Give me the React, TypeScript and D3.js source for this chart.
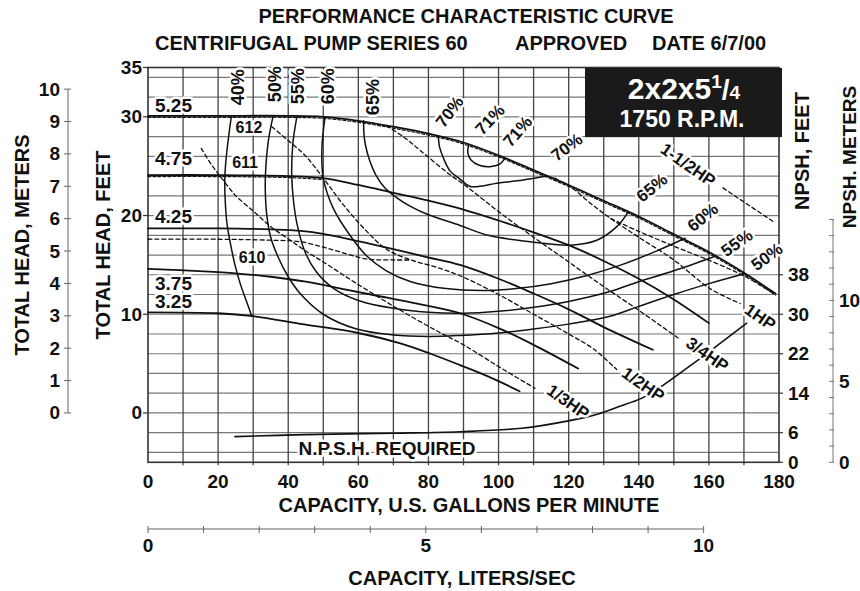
import React from 'react';
import * as d3 from 'd3';

type Pt = [number, number];

const FONT = "'Liberation Sans', Arial, Helvetica, sans-serif";

// --- axis ticks ---
const gpmTicks = [0, 20, 40, 60, 80, 100, 120, 140, 160, 180];
const gpmGrid = [10, 20, 30, 40, 50, 60, 70, 80, 90, 100, 110, 120, 130, 140, 150, 160, 170];
const headGrid = [-4, -2, 0, 2, 4, 6, 8, 10, 12, 14, 16, 18, 20, 22, 24, 26, 28, 30, 32, 34];
const headFtTicks = [0, 10, 20, 30, 35];
const headMTicks = [0, 1, 2, 3, 4, 5, 6, 7, 8, 9, 10];
const npshFtTicks = [0, 6, 14, 22, 30, 38];
const npshMTicks = [0, 1, 2, 3, 4, 5, 6, 7, 8, 9, 10, 11, 12, 13, 14, 15];
const npshMLabels = [0, 5, 10];
const literTicks = [0, 1, 2, 3, 4, 5, 6, 7, 8, 9, 10];
const literLabels = [0, 5, 10];

// --- impeller head curves (gpm, ft) ---
const imp525: Pt[] = [[0, 30.1], [20, 30.1], [40, 30.1], [50, 30.0], [60, 29.6], [70, 29.0], [80, 28.3], [90, 27.4], [100, 26.1], [110, 24.6], [120, 23.1], [130, 21.5], [140, 19.9], [150, 18.1], [160, 16.3], [170, 14.2], [179, 12.1]];
const imp475: Pt[] = [[0, 24.1], [20, 24.1], [40, 24.0], [50, 23.8], [60, 23.1], [70, 22.3], [80, 21.5], [90, 20.6], [100, 19.5], [110, 18.3], [120, 17.0], [130, 15.4], [140, 13.6], [150, 11.5], [160, 9.1]];
const imp425: Pt[] = [[0, 18.7], [20, 18.7], [35, 18.6], [45, 18.4], [55, 17.8], [65, 17.0], [79.5, 15.8], [89, 15.0], [100, 13.6], [110, 12.1], [120, 10.5], [130, 8.7], [144, 6.4]];
const imp375: Pt[] = [[0, 14.6], [16, 14.35], [25, 14.15], [35, 13.8], [45, 13.3], [55, 12.6], [65, 11.9], [75, 11.2], [89, 10.1], [100, 8.6], [110, 6.9], [122.7, 4.5]];
const imp325: Pt[] = [[0, 10.2], [20, 10.1], [30, 9.8], [44, 9.0], [60, 8.1], [72, 7.05], [81, 5.95], [89, 4.85], [97, 3.7], [106, 2.2]];
const imp475Dotted: Pt[] = [[0, 24.1], [20, 24.1], [40, 24.0], [50, 23.8]];

// --- efficiency contours ---
const eff40: Pt[] = [[23.8, 30.1], [23.0, 28.0], [22.2, 25.5], [21.9, 23.5], [22.1, 21.0], [22.6, 19.0], [23.6, 17.0], [24.8, 15.0], [26.4, 13.0], [28.0, 11.4], [29.6, 9.8]];
const eff50: Pt[] = [[35.7, 30.1], [34.3, 27.5], [33.5, 24.1], [33.5, 22.0], [33.9, 20.0], [35.0, 17.8], [37.1, 15.8], [40, 13.8], [43.4, 12.1], [50, 10.0], [59.5, 8.5], [70, 7.9], [80, 7.75], [89, 7.85], [100, 8.1], [110, 8.5], [120, 9.0], [131.8, 9.8], [140, 10.8], [150, 12.0], [160, 13.1], [170.2, 14.1]];
const eff55: Pt[] = [[42.5, 30.1], [41.3, 27.2], [41.0, 24.1], [41.5, 21.5], [42.6, 19.0], [44.8, 16.3], [48, 14.3], [53, 12.6], [60, 11.4], [70, 10.6], [80, 10.2], [90, 10.1], [100, 10.3], [110, 10.7], [120, 11.3], [131.8, 12.3], [140, 13.3], [150, 14.4], [162, 15.9]];
const eff60: Pt[] = [[50.5, 29.95], [49.6, 26.8], [50, 23.8], [52.9, 20.7], [57.6, 18.0], [62.4, 15.9], [68, 14.4], [75, 13.3], [85, 12.6], [95, 12.4], [105, 12.6], [115, 13.1], [125, 13.9], [135, 15.0], [145, 16.4], [153.2, 17.7]];
const eff65: Pt[] = [[61.5, 29.6], [61.6, 28.3], [62, 27.2], [63.2, 25.6], [65, 24.1], [67.6, 22.8], [71, 21.8], [75, 20.9], [79.5, 20.15], [89, 19.0], [97, 18.0], [109, 17.35], [120.4, 17.0], [128, 17.5], [133.8, 18.9], [137, 20.4]];
const eff70: Pt[] = [[82.8, 28.05], [83.2, 26.9], [84.3, 25.8], [86.2, 24.5], [89, 23.7], [91.9, 22.95], [100, 23.3], [107, 23.6], [113.8, 24.0]];
const eff71: Pt[] = [[91.5, 27.2], [91.2, 26.4], [92.2, 25.6], [94.5, 25.1], [97.5, 24.95], [100.3, 25.2], [101.8, 25.8]];

// --- horsepower lines (dashed) ---
const hp13: Pt[] = [[15.2, 26.8], [18, 25.2], [21, 23.8], [24.8, 22.1], [30.5, 20.3], [35.3, 18.8], [41, 17.4], [45, 16.4], [50, 15.3], [60, 13.0], [72, 10.4], [83, 8.2], [90, 6.9], [100, 4.7], [110.4, 2.5]];
const hpLow: Pt[] = [[0, 17.6], [20, 17.6], [35, 17.5], [43.4, 17.35], [52, 16.6], [62.4, 15.6], [70, 15.5], [75, 15.5]];
const hp12: Pt[] = [[35.3, 29.0], [40, 27.6], [44.8, 26.1], [50, 23.8], [55.7, 21.1], [62.4, 18.4], [68, 16.6], [75, 15.5], [82, 14.8], [89, 13.9], [100, 12.0], [110, 10.0], [120, 8.0], [127, 6.5], [133.7, 4.4]];
const hp34: Pt[] = [[68, 29.1], [72.8, 28.0], [78, 26.5], [85.2, 24.4], [91.4, 22.8], [100, 20.4], [110.4, 17.7], [120, 15.3], [130, 12.8], [140, 10.4], [151.2, 7.6]];
const hp1: Pt[] = [[116, 23.8], [121, 22.8], [126, 21.3], [132, 19.7], [140, 17.8], [150, 15.5], [160.3, 12.6], [168.9, 11.1]];
const hpEdge: Pt[] = [[132, 19.7], [140, 18.4], [150, 16.9], [163.2, 15.0], [171, 13.7], [178.4, 12.1]];
const hp112: Pt[] = [[164, 22.8], [178.3, 19.4]];

// --- NPSH required (gpm, NPSH ft) ---
const npshReq: Pt[] = [[24.8, 5.2], [44.8, 5.6], [70, 5.9], [89, 6.2], [106.6, 6.9], [119.9, 8.4], [128.4, 9.8], [134, 11.2], [140.9, 13.0], [146.9, 15.6], [155.5, 20.0], [163.2, 24.1], [170.8, 28.2]];

// --- labels (positions in gpm / ft) ---
const impLabels = [
  { t: '5.25', q: 2, h: 31.2 },
  { t: '4.75', q: 2, h: 25.8 },
  { t: '4.25', q: 2, h: 19.9 },
  { t: '3.75', q: 2, h: 13.1 },
  { t: '3.25', q: 2, h: 11.25 },
];
const patternLabels = [
  { t: '612', q: 28.8, h: 28.9 },
  { t: '611', q: 27.7, h: 25.4 },
  { t: '610', q: 29.7, h: 15.8 },
];
const effTopLabels = [
  { t: '40%', q: 25.7, h: 33.0 },
  { t: '50%', q: 36.2, h: 33.3 },
  { t: '55%', q: 42.8, h: 33.1 },
  { t: '60%', q: 51.3, h: 33.1 },
  { t: '65%', q: 64.2, h: 32.0 },
];
const effSideLabels = [
  { t: '70%', q: 86.1, h: 30.5, a: -53 },
  { t: '71%', q: 97.6, h: 29.7, a: -47 },
  { t: '71%', q: 105.5, h: 28.5, a: -49 },
  { t: '70%', q: 119.5, h: 26.9, a: -37 },
  { t: '65%', q: 143.8, h: 22.8, a: -39 },
  { t: '60%', q: 158.3, h: 19.8, a: -39 },
  { t: '55%', q: 168, h: 17.2, a: -35 },
  { t: '50%', q: 176.6, h: 15.8, a: -36 },
];
const hpLabels = [
  { t: '1-1/2HP', q: 154, h: 25.1 },
  { t: '1HP', q: 174.6, h: 9.7 },
  { t: '3/4HP', q: 159.5, h: 5.9 },
  { t: '1/2HP', q: 141.2, h: 2.85 },
  { t: '1/3HP', q: 119.8, h: 1.1 },
];

const M_TO_FT = 3.2808;
const LPS_TO_GPM = 15.85;

const x = d3.scaleLinear().domain([0, 180]).range([148, 779]);
const y = d3.scaleLinear().domain([-5, 35]).range([462.3, 67.5]);
const yN = d3.scaleLinear().domain([0, 80]).range([462.3, 67.5]); // npsh ft
const yM = d3.scaleLinear().domain([0, 10]).range([y(0), y(10 * M_TO_FT)]);
const yNM = d3.scaleLinear().domain([0, 15]).range([yN(0), yN(15 * M_TO_FT)]);
const xL = d3.scaleLinear().domain([0, 10]).range([x(0), x(10 * LPS_TO_GPM)]);

const curve = d3.curveCatmullRom.alpha(0.5);
const headLine = d3.line<Pt>().x((d) => x(d[0])).y((d) => y(d[1])).curve(curve);
const npshLine = d3.line<Pt>().x((d) => x(d[0])).y((d) => yN(d[1])).curve(curve);

const Halo: React.FC<{
  px: number;
  py: number;
  a?: number;
  size: number;
  anchor?: 'start' | 'middle' | 'end';
  children: React.ReactNode;
}> = ({ px, py, a = 0, size, anchor = 'middle', children }) => (
  <text
    transform={`translate(${px},${py}) rotate(${a})`}
    textAnchor={anchor}
    dominantBaseline="central"
    fontSize={size}
    fontWeight="bold"
    fill="#111"
    stroke="#fff"
    strokeWidth={5}
    strokeLinejoin="round"
    style={{ paintOrder: 'stroke' }}>
    {children}
  </text>
);

export default function App() {
  const left = x(0);
  const right = x(180);
  const top = y(35);
  const bottom = y(-5);
  const solid = [imp525, imp475, imp425, imp375, imp325];
  const effs = [eff40, eff50, eff55, eff60, eff65, eff70, eff71];
  const dashed = [hp13, hpLow, hp12, hp34, hp1, hpEdge, hp112];

  return (
    <svg
      width={860}
      height={591}
      style={{ position: 'absolute', left: 0, top: 0, background: '#fff' }}
      fontFamily={FONT}
      fontWeight="bold">
      {/* titles */}
      <text x={466} y={23} textAnchor="middle" fontSize={20} fill="#111">
        PERFORMANCE CHARACTERISTIC CURVE
      </text>
      <text x={155} y={50} fontSize={20} fill="#111">
        CENTRIFUGAL PUMP SERIES 60
      </text>
      <text x={515} y={50} fontSize={20} fill="#111">
        APPROVED
      </text>
      <text x={652} y={50} fontSize={20} fill="#111">
        DATE 6/7/00
      </text>

      {/* grid */}
      <g stroke="#777" strokeWidth={1.2}>
        {headGrid.map((h) => (
          <line key={'h' + h} x1={left} x2={right} y1={y(h)} y2={y(h)} />
        ))}
      </g>
      <g stroke="#444" strokeWidth={1.3}>
        {gpmGrid.map((q) => (
          <line key={'v' + q} x1={x(q)} x2={x(q)} y1={top} y2={bottom + 3} />
        ))}
      </g>
      <rect x={left} y={top} width={right - left} height={bottom - top} fill="none" stroke="#333" strokeWidth={1.6} />

      {/* left feet axis */}
      <g fontSize={19} fill="#111">
        {headFtTicks.map((h) => (
          <g key={'ft' + h}>
            <line x1={left - 5} x2={left} y1={y(h)} y2={y(h)} stroke="#333" strokeWidth={1.2} />
            <text x={142} y={y(h)} textAnchor="end" dominantBaseline="central">
              {h}
            </text>
          </g>
        ))}
      </g>
      {/* left meters axis */}
      <line x1={68} x2={68} y1={yM(10)} y2={yM(0)} stroke="#666" strokeWidth={1} />
      <g fontSize={19} fill="#111">
        {headMTicks.map((m) => (
          <g key={'m' + m}>
            <line x1={64} x2={71} y1={yM(m)} y2={yM(m)} stroke="#666" strokeWidth={1} />
            <text x={60} y={yM(m)} textAnchor="end" dominantBaseline="central">
              {m}
            </text>
          </g>
        ))}
      </g>
      <text transform={`translate(22,245) rotate(-90)`} textAnchor="middle" dominantBaseline="central" fontSize={20} fill="#111">
        TOTAL HEAD, METERS
      </text>
      <text transform={`translate(103,245) rotate(-90)`} textAnchor="middle" dominantBaseline="central" fontSize={20} fill="#111">
        TOTAL HEAD, FEET
      </text>

      {/* right NPSH axes */}
      <g fontSize={19} fill="#111">
        {npshFtTicks.map((n) => (
          <g key={'n' + n}>
            <line x1={right} x2={right + 4} y1={yN(n)} y2={yN(n)} stroke="#333" strokeWidth={1.2} />
            <text x={788} y={yN(n)} dominantBaseline="central">
              {n}
            </text>
          </g>
        ))}
      </g>
      <line x1={833} x2={833} y1={yNM(15)} y2={yNM(0)} stroke="#777" strokeWidth={1} />
      {npshMTicks.map((m) => (
        <line key={'nm' + m} x1={829} x2={834} y1={yNM(m)} y2={yNM(m)} stroke="#777" strokeWidth={1} />
      ))}
      <g fontSize={19} fill="#111">
        {npshMLabels.map((m) => (
          <text key={'nml' + m} x={839} y={yNM(m)} dominantBaseline="central">
            {m}
          </text>
        ))}
      </g>
      <text transform={`translate(802,151) rotate(-90)`} textAnchor="middle" dominantBaseline="central" fontSize={20} fill="#111">
        NPSH, FEET
      </text>
      <text transform={`translate(849,157) rotate(-90)`} textAnchor="middle" dominantBaseline="central" fontSize={19} fill="#111">
        NPSH. METERS
      </text>

      {/* bottom gpm axis */}
      <g fontSize={19} fill="#111">
        {gpmTicks.map((q) => (
          <text key={'g' + q} x={x(q)} y={488} textAnchor="middle">
            {q}
          </text>
        ))}
      </g>
      <text x={469} y={512} textAnchor="middle" fontSize={20} fill="#111">
        CAPACITY, U.S. GALLONS PER MINUTE
      </text>

      {/* liters/sec axis */}
      <line x1={xL(0)} x2={xL(10)} y1={529} y2={529} stroke="#666" strokeWidth={1.2} />
      {literTicks.map((l) => (
        <line key={'l' + l} x1={xL(l)} x2={xL(l)} y1={526} y2={533} stroke="#666" strokeWidth={1} />
      ))}
      <g fontSize={19} fill="#111">
        {literLabels.map((l) => (
          <text key={'ll' + l} x={xL(l)} y={552} textAnchor="middle">
            {l}
          </text>
        ))}
      </g>
      <text x={462} y={585} textAnchor="middle" fontSize={20} fill="#111">
        CAPACITY, LITERS/SEC
      </text>

      {/* curves */}
      <g fill="none" stroke="#111" strokeLinecap="round">
        {dashed.map((d, i) => (
          <path key={'d' + i} d={headLine(d) ?? ''} strokeWidth={1.3} strokeDasharray="4,3" />
        ))}
        <g transform="translate(0,1.5)">
          <path d={headLine(imp525) ?? ''} strokeWidth={1.2} strokeDasharray="3,2" />
          <path d={headLine(imp475Dotted) ?? ''} strokeWidth={1.2} strokeDasharray="3,2" />
        </g>
        {effs.map((d, i) => (
          <path key={'e' + i} d={headLine(d) ?? ''} strokeWidth={1.5} />
        ))}
        {solid.map((d, i) => (
          <path key={'s' + i} d={headLine(d) ?? ''} strokeWidth={1.8} />
        ))}
        <path d={npshLine(npshReq) ?? ''} strokeWidth={1.6} />
      </g>

      {/* labels */}
      {impLabels.map((l) => (
        <Halo key={l.t} px={x(l.q)} py={y(l.h)} size={19} anchor="start">
          {l.t}
        </Halo>
      ))}
      {patternLabels.map((l) => (
        <Halo key={l.t} px={x(l.q)} py={y(l.h)} size={16}>
          {l.t}
        </Halo>
      ))}
      {effTopLabels.map((l) => (
        <Halo key={l.t} px={x(l.q)} py={y(l.h)} a={-90} size={18}>
          {l.t}
        </Halo>
      ))}
      {effSideLabels.map((l, i) => (
        <Halo key={'es' + i} px={x(l.q)} py={y(l.h)} a={l.a} size={17}>
          {l.t}
        </Halo>
      ))}
      {hpLabels.map((l) => (
        <Halo key={l.t} px={x(l.q)} py={y(l.h)} a={35} size={17}>
          {l.t}
        </Halo>
      ))}
      <Halo px={x(68.2)} py={y(-3.6)} size={19}>
        N.P.S.H. REQUIRED
      </Halo>

      {/* model box */}
      <rect x={585} y={68} width={197} height={69} fill="#1a1a1a" />
      <text x={684} y={99} textAnchor="middle" fill="#fff" fontSize={30}>
        2x2x5
        <tspan fontSize={19} dy={-11}>
          1
        </tspan>
        <tspan fontSize={28} dy={11}>
          /
        </tspan>
        <tspan fontSize={19} dy={0}>
          4
        </tspan>
      </text>
      <text x={682} y={127} textAnchor="middle" fill="#fff" fontSize={23}>
        1750 R.P.M.
      </text>
    </svg>
  );
}
